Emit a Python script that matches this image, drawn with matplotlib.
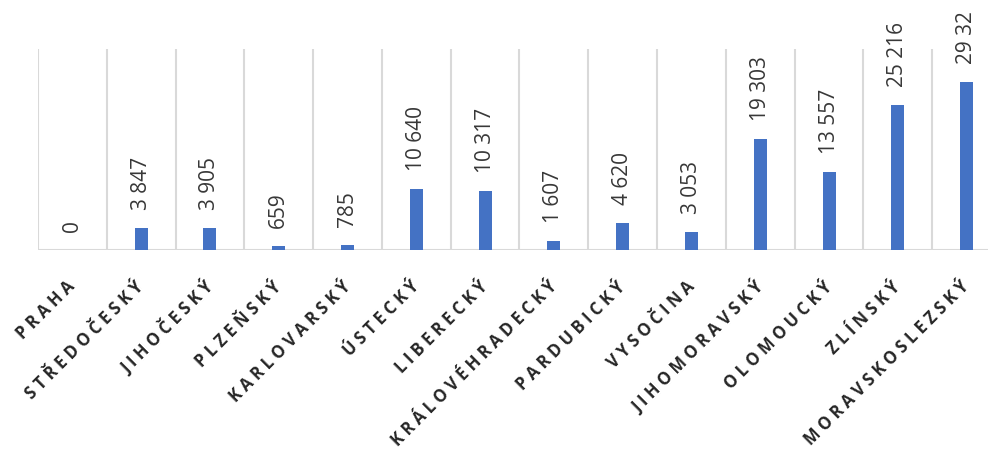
import matplotlib
matplotlib.use("Agg")
import matplotlib.pyplot as plt
import matplotlib.transforms as mtransforms

categories = ["PRAHA", "STŘEDOČESKÝ", "JIHOČESKÝ", "PLZEŇSKÝ", "KARLOVARSKÝ",
              "ÚSTECKÝ", "LIBERECKÝ", "KRÁLOVÉHRADECKÝ", "PARDUBICKÝ", "VYSOČINA",
              "JIHOMORAVSKÝ", "OLOMOUCKÝ", "ZLÍNSKÝ", "MORAVSKOSLEZSKÝ"]
values = [0, 3847, 3905, 659, 785, 10640, 10317, 1607, 4620, 3053,
          19303, 13557, 25216, 29320]
value_labels = ["0", "3 847", "3 905", "659", "785", "10 640", "10 317", "1 607",
                "4 620", "3 053", "19 303", "13 557", "25 216", "29 32"]

W, H = 988, 454
fig = plt.figure(figsize=(W / 100, H / 100), dpi=100)
left_px, right_px, top_px, base_px = 38, 1001, 49, 250
ax = fig.add_axes([left_px / W, (H - base_px) / H,
                   (right_px - left_px) / W, (base_px - top_px) / H])
ax.set_xlim(-0.5, len(categories) - 0.5)
ax.set_ylim(0, 35000)

x = list(range(len(categories)))
ax.bar(x, values, width=0.19, color="#4472C4", zorder=3)

# vertical category separators
for b in range(len(categories) + 1):
    ax.axvline(b - 0.5, color="#d9d9d9", lw=1.5, zorder=1)
ax.axhline(0, color="#d9d9d9", lw=1.5, zorder=2)

for s in ax.spines.values():
    s.set_visible(False)
ax.set_yticks([])
ax.set_xticks([])

offset = mtransforms.offset_copy(ax.transData, fig=fig, x=0, y=18, units="dots")
for xi, v, lab in zip(x, values, value_labels):
    ax.text(xi, v, lab, transform=offset, rotation=90, ha="center", va="bottom",
            fontsize=15, family="Open Sans", color="#383838", clip_on=False)

lab_off = mtransforms.offset_copy(ax.transData, fig=fig, x=0, y=-34, units="dots")
for xi, c in zip(x, categories):
    spaced = " ".join(list(c))
    ax.text(xi, 0, spaced, transform=lab_off, rotation=45, rotation_mode="anchor",
            ha="right", va="center", fontsize=12, family="Open Sans",
            fontweight="bold", color="#262626", clip_on=False)

fig.savefig("out.png", dpi=100)
